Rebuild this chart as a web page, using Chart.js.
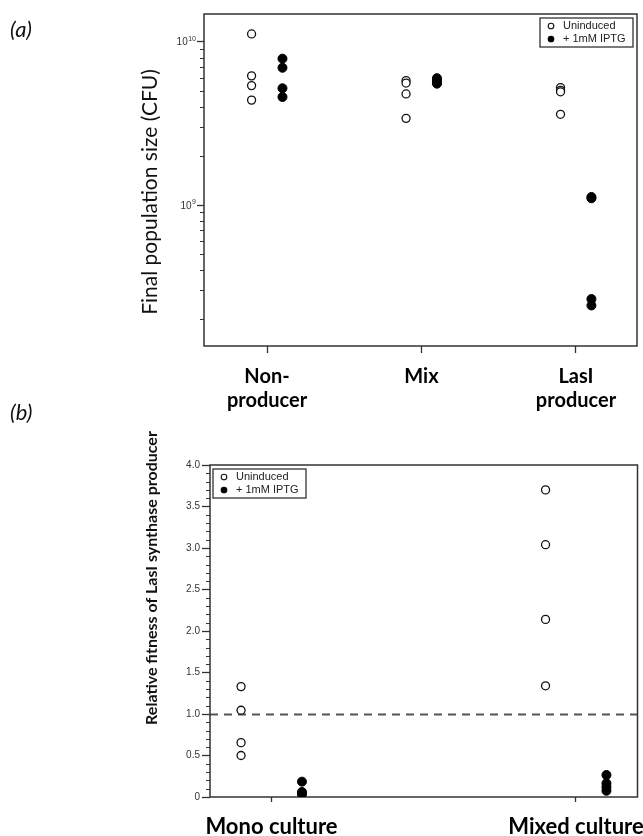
<!DOCTYPE html>
<html>
<head>
<meta charset="utf-8">
<script src="https://cdn.jsdelivr.net/npm/chart.js@4.4.1/dist/chart.umd.min.js"></script>
<style>
  html, body { margin: 0; padding: 0; background: #fff; }
  #wrap { position: relative; width: 643px; height: 836px; overflow: hidden; }
  canvas { position: absolute; left: 0; }
  #chart-a { top: 0; }
  #chart-b { top: 390px; }
</style>
</head>
<body>
<div id="wrap">
  <canvas id="chart-a" width="643" height="420"></canvas>
  <canvas id="chart-b" width="643" height="446"></canvas>
</div>
<script>
// (a) final population size, four replicates per culture
const popCategories = [["Non-", "producer"], ["Mix"], ["LasI", "producer"]];
const popUninduced = [
  [1.12e10, 6.2e9, 5.4e9, 4.4e9],
  [5.8e9, 5.6e9, 4.8e9, 3.4e9],
  [5.25e9, 5.05e9, 4.95e9, 3.6e9],
];
const popInduced = [
  [7.9e9, 6.95e9, 5.2e9, 4.6e9],
  [6.0e9, 5.85e9, 5.65e9, 5.55e9],
  [1.12e9, 1.1e9, 2.65e8, 2.42e8],
];
const popMajorTicks = [1e9, 1e10];
const popTickExponents = ["9", "10"];
const popMinorTicks = [2e8, 3e8, 4e8, 5e8, 6e8, 7e8, 8e8, 9e8,
  2e9, 3e9, 4e9, 5e9, 6e9, 7e9, 8e9, 9e9];

// (b) relative fitness of the LasI producer
const fitCategories = ["Mono culture", "Mixed culture"];
const fitUninduced = [
  [1.33, 1.045, 0.655, 0.5],
  [3.7, 3.04, 2.14, 1.34],
];
const fitInduced = [
  [0.185, 0.06, 0.045, 0.035],
  [0.265, 0.165, 0.12, 0.075],
];
const fitMajorTicks = [0, 0.5, 1, 1.5, 2, 2.5, 3, 3.5, 4];
const fitTickLabels = ["0", "0.5", "1.0", "1.5", "2.0", "2.5", "3.0", "3.5", "4.0"];
const fitReference = 1.0;

const seriesNames = ["Uninduced", "+ 1mM IPTG"];
const GROUP_OFFSET = 0.1; // uninduced left of the tick, induced right

const TITLE_FONT = "Lato, 'Open Sans', sans-serif";
const TICK_FONT = "'Liberation Sans', Arial, sans-serif";

function toPoints(groups, offset) {
  const pts = [];
  groups.forEach(function (vals, i) {
    vals.forEach(function (v) { pts.push({ x: i + 1 + offset, y: v }); });
  });
  return pts;
}

const openStyle = {
  pointStyle: "circle", pointRadius: 4, pointBorderWidth: 1.3,
  pointBackgroundColor: "#fff", pointBorderColor: "#111",
  backgroundColor: "#fff", borderColor: "#111", showLine: false,
};
const filledStyle = {
  pointStyle: "circle", pointRadius: 4.5, pointBorderWidth: 1,
  pointBackgroundColor: "#000", pointBorderColor: "#000",
  backgroundColor: "#000", borderColor: "#000", showLine: false,
};

// frame, minor ticks, dashed reference, legend box and rotated titles
const panelDecor = {
  id: "panelDecor",
  beforeDatasetsDraw(chart, args, opts) {
    const ctx = chart.ctx;
    const area = chart.chartArea;
    const y = chart.scales.y;
    ctx.save();
    if (opts.refLine != null) {
      const py = Math.round(y.getPixelForValue(opts.refLine)) + 0.5;
      ctx.strokeStyle = "#555";
      ctx.lineWidth = 1.8;
      ctx.setLineDash([8, 6]);
      ctx.beginPath();
      ctx.moveTo(area.left, py);
      ctx.lineTo(area.right, py);
      ctx.stroke();
      ctx.setLineDash([]);
    }
    ctx.strokeStyle = "#333";
    ctx.lineWidth = 1;
    opts.minorTicks.forEach(function (v) {
      const py = Math.round(y.getPixelForValue(v)) + 0.5;
      if (py < area.top || py > area.bottom) return;
      ctx.beginPath();
      ctx.moveTo(area.left - opts.minorLen, py);
      ctx.lineTo(area.left, py);
      ctx.stroke();
    });
    ctx.lineWidth = 1.5;
    ctx.strokeRect(area.left, area.top, area.right - area.left, area.bottom - area.top);

    // power-of-ten labels with a raised exponent
    if (opts.powerLabels) {
      ctx.fillStyle = "#333";
      ctx.textBaseline = "alphabetic";
      ctx.textAlign = "right";
      opts.powerLabels.values.forEach(function (v, i) {
        const py = y.getPixelForValue(v);
        const right = area.left - 8;
        ctx.font = "7px " + TICK_FONT;
        const expW = ctx.measureText(opts.powerLabels.exponents[i]).width;
        ctx.fillText(opts.powerLabels.exponents[i], right, py - 1);
        ctx.font = "10px " + TICK_FONT;
        ctx.fillText("10", right - expW - 0.5, py + 3.5);
      });
    }
    ctx.restore();
  },
  afterDraw(chart, args, opts) {
    const ctx = chart.ctx;
    const area = chart.chartArea;
    ctx.save();

    // legend
    const w = 93, h = 29;
    const lx = opts.legendAlign === "right" ? area.right - 4 - w : area.left + 3;
    const ly = area.top + 4;
    ctx.fillStyle = "#fff";
    ctx.fillRect(lx, ly, w, h);
    ctx.strokeStyle = "#333";
    ctx.lineWidth = 1.3;
    ctx.strokeRect(lx, ly, w, h);
    ctx.font = "11px " + TICK_FONT;
    ctx.textBaseline = "middle";
    ctx.textAlign = "left";
    chart.data.datasets.forEach(function (ds, i) {
      const cy = ly + 8 + i * 13;
      ctx.beginPath();
      ctx.arc(lx + 11, cy, 2.8, 0, Math.PI * 2);
      ctx.fillStyle = ds.pointBackgroundColor;
      ctx.fill();
      ctx.lineWidth = 1.1;
      ctx.strokeStyle = ds.pointBorderColor;
      ctx.stroke();
      ctx.fillStyle = "#222";
      ctx.fillText(ds.label, lx + 23, cy);
    });

    // y title
    ctx.fillStyle = "#111";
    ctx.font = opts.yTitle.font;
    ctx.translate(opts.yTitle.x, opts.yTitle.y);
    ctx.rotate(-Math.PI / 2);
    ctx.textAlign = "center";
    ctx.fillText(opts.yTitle.text, 0, 0);
    ctx.setTransform(1, 0, 0, 1, 0, 0);

    // panel letter
    ctx.font = "italic 22px " + TITLE_FONT;
    ctx.textAlign = "left";
    ctx.fillText(opts.panel.text, opts.panel.x, opts.panel.y);
    ctx.restore();
  },
};

function xAxis(min, max, count, labelFn, tickLen, height, fontSize) {
  return {
    type: "linear", min: min, max: max,
    afterBuildTicks: function (s) {
      s.ticks = [];
      for (let i = 1; i <= count; i++) s.ticks.push({ value: i });
    },
    ticks: {
      callback: function (v) { return labelFn(Math.round(v) - 1); },
      font: { family: TITLE_FONT, size: fontSize, weight: "bold", lineHeight: 1.2 },
      color: "#000", padding: 12, maxRotation: 0, autoSkip: false,
    },
    grid: { display: true, drawOnChartArea: false, drawTicks: true, tickLength: tickLen, tickColor: "#333", tickWidth: 1.3 },
    border: { display: false },
    afterFit: function (s) { s.height = height; s.paddingLeft = 0; s.paddingRight = 0; },
  };
}

const chartA = new Chart(document.getElementById("chart-a"), {
  type: "scatter",
  data: {
    datasets: [
      Object.assign({ label: seriesNames[0], data: toPoints(popUninduced, -GROUP_OFFSET) }, openStyle),
      Object.assign({ label: seriesNames[1], data: toPoints(popInduced, GROUP_OFFSET) }, filledStyle),
    ],
  },
  options: {
    responsive: false, animation: false, devicePixelRatio: 1,
    layout: { padding: { top: 14, right: 6, left: 0, bottom: 0 } },
    plugins: {
      legend: { display: false }, tooltip: { enabled: false },
      panelDecor: {
        minorTicks: popMinorTicks, minorLen: 4, refLine: null, legendAlign: "right",
        powerLabels: { values: popMajorTicks, exponents: popTickExponents },
        yTitle: { text: "Final population size (CFU)", x: 150, y: 192, font: "21px " + TITLE_FONT },
        panel: { text: "(a)", x: 10, y: 30 },
      },
    },
    scales: {
      x: xAxis(0.592, 3.395, popCategories.length, function (i) { return popCategories[i]; }, 7, 74, 20),
      y: {
        type: "logarithmic", min: 1.365e8, max: 1.485e10,
        afterBuildTicks: function (s) { s.ticks = popMajorTicks.map(function (v) { return { value: v }; }); },
        ticks: { display: false },
        grid: { display: true, drawOnChartArea: false, drawTicks: true, tickLength: 7, tickColor: "#333", tickWidth: 1.3 },
        border: { display: false },
        afterFit: function (s) { s.width = 204; s.paddingTop = 0; s.paddingBottom = 0; },
      },
    },
  },
  plugins: [panelDecor],
});

const fitMinorTicks = [];
for (let k = 1; k < 40; k++) if (k % 5 !== 0) fitMinorTicks.push(k / 10);

const chartB = new Chart(document.getElementById("chart-b"), {
  type: "scatter",
  data: {
    datasets: [
      Object.assign({ label: seriesNames[0], data: toPoints(fitUninduced, -GROUP_OFFSET) }, openStyle),
      Object.assign({ label: seriesNames[1], data: toPoints(fitInduced, GROUP_OFFSET) }, filledStyle),
    ],
  },
  options: {
    responsive: false, animation: false, devicePixelRatio: 1,
    layout: { padding: { top: 75, right: 2, left: 0, bottom: 0 } },
    plugins: {
      legend: { display: false }, tooltip: { enabled: false },
      panelDecor: {
        minorTicks: fitMinorTicks, minorLen: 4, refLine: fitReference, legendAlign: "left",
        yTitle: { text: "Relative fitness of LasI synthase producer", x: 152, y: 188, font: "bold 16px " + TITLE_FONT },
        panel: { text: "(b)", x: 10, y: 23 },
      },
    },
    scales: {
      x: xAxis(0.798, 2.202, fitCategories.length, function (i) { return fitCategories[i]; }, 5, 39, 22),
      y: {
        type: "linear", min: 0, max: 4,
        afterBuildTicks: function (s) { s.ticks = fitMajorTicks.map(function (v) { return { value: v }; }); },
        ticks: {
          callback: function (v) { return fitTickLabels[fitMajorTicks.indexOf(v)]; },
          font: { family: TICK_FONT, size: 10 }, color: "#333", padding: 2,
        },
        grid: { display: true, drawOnChartArea: false, drawTicks: true, tickLength: 8, tickColor: "#333", tickWidth: 1.3 },
        border: { display: false },
        afterFit: function (s) { s.width = 210; s.paddingTop = 0; s.paddingBottom = 0; },
      },
    },
  },
  plugins: [panelDecor],
});
</script>
</body>
</html>
